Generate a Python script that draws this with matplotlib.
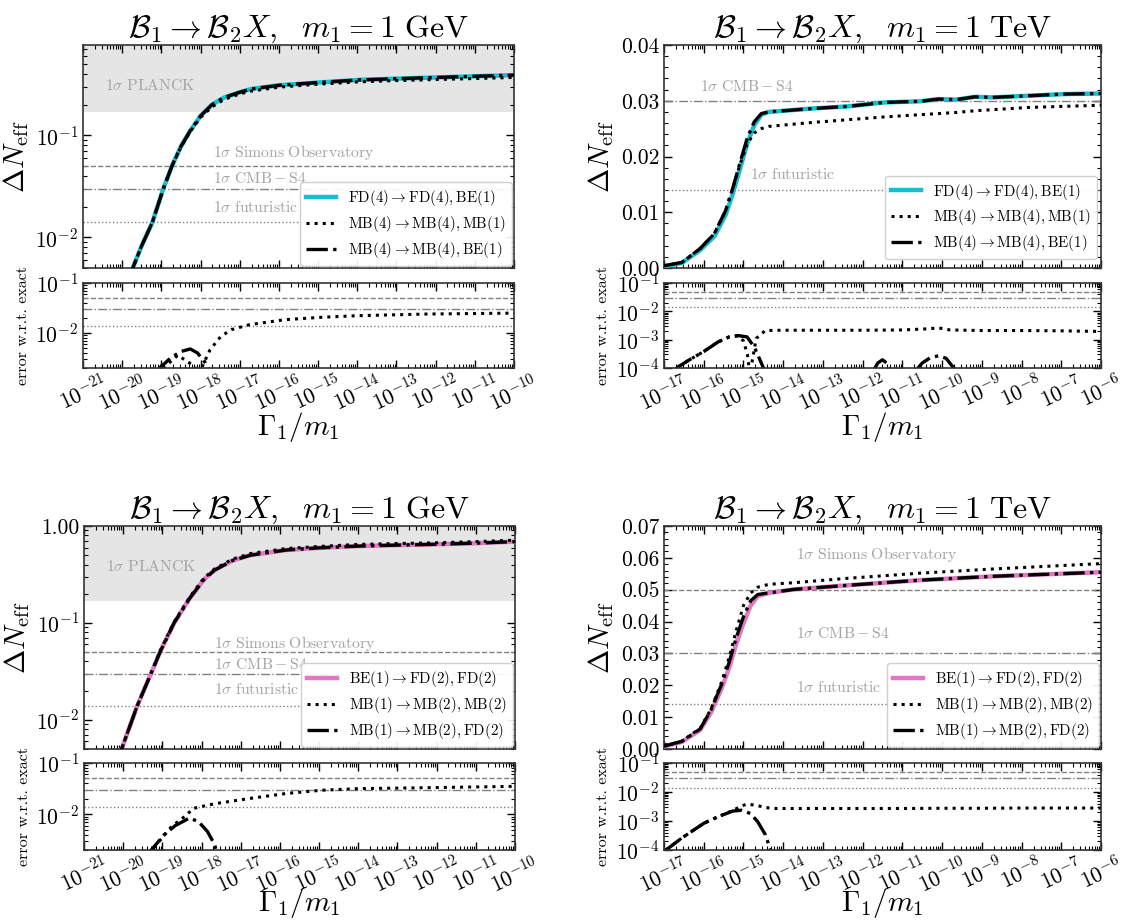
import numpy as np
import matplotlib
matplotlib.use("Agg")
import matplotlib.pyplot as plt
from matplotlib.ticker import LogLocator, NullFormatter, AutoMinorLocator, FixedLocator, FixedFormatter

plt.rcParams.update({
    "font.family": "serif",
    "font.serif": ["cmr10", "DejaVu Serif"],
    "mathtext.fontset": "cm",
    "axes.formatter.use_mathtext": True,
    "axes.unicode_minus": False,
})

# ---------------- data (log10 of Gamma_1/m_1, values) ----------------
# Panel 1: m1 = 1 GeV, FD(4) -> FD(4), BE(1)
x_a = [-19.85, -19.73, -19.5, -19.23, -18.95, -18.73, -18.5, -18.27, -18.0, -17.71,
       -17.4, -17.0, -16.71, -16.0, -15.0, -13.96, -13.0, -12.0, -11.0, -10.0]
a_exact = [0.0039, 0.005, 0.0083, 0.014, 0.03, 0.05, 0.078, 0.11, 0.155, 0.2,
           0.235, 0.265, 0.285, 0.31, 0.33, 0.35, 0.36, 0.37, 0.38, 0.39]
a_mbmb = [0.0039, 0.005, 0.0083, 0.014, 0.03, 0.05, 0.077, 0.108, 0.15, 0.19,
          0.225, 0.255, 0.272, 0.297, 0.318, 0.335, 0.345, 0.353, 0.361, 0.37]
a_mbbe = [0.0039, 0.005, 0.0083, 0.014, 0.03, 0.05, 0.078, 0.11, 0.155, 0.2,
          0.235, 0.265, 0.285, 0.31, 0.33, 0.35, 0.36, 0.37, 0.38, 0.39]
xe_a_mbmb = [-19.1, -18.95, -18.58, -18.4, -18.17, -18.05, -17.95, -17.76, -17.48,
             -17.21, -16.75, -15.84, -14.93, -14.01, -12.19, -10.0]
e_a_mbmb = [0.0015, 0.002, 0.0036, 0.0029, 0.0022, 0.0015, 0.0022, 0.0046, 0.0086,
            0.0117, 0.0147, 0.0185, 0.0206, 0.0222, 0.024, 0.025]
xe_a_mbbe = [-19.15, -19.04, -18.76, -18.49, -18.26, -18.08, -17.9, -17.8, -17.72]
e_a_mbbe = [0.0015, 0.002, 0.0032, 0.0043, 0.0048, 0.004, 0.0027, 0.002, 0.0015]

# Panel 2: m1 = 1 TeV, FD(4) -> FD(4), BE(1)
x_b = [-17.0, -16.55, -16.09, -15.73, -15.45, -15.27, -15.09, -14.91, -14.73, -14.55,
       -14.36, -13.27, -12.36, -11.45, -10.55, -10.09, -9.64, -9.18, -8.73, -7.82, -6.91, -6.0]
b_exact = [0.0003, 0.0009, 0.0032, 0.0057, 0.0095, 0.0133, 0.0177, 0.0222, 0.0256, 0.0275,
           0.028, 0.0286, 0.029, 0.0297, 0.0299, 0.0303, 0.0302, 0.0307, 0.0306, 0.0309, 0.0312, 0.0313]
b_mbbe = [0.0004, 0.0010, 0.0035, 0.0062, 0.0103, 0.0143, 0.0188, 0.0232, 0.0262, 0.0277,
          0.028, 0.0286, 0.029, 0.0297, 0.0299, 0.0303, 0.0302, 0.0307, 0.0306, 0.0309, 0.0312, 0.0313]
b_mbmb = [0.0004, 0.0010, 0.0035, 0.0062, 0.0103, 0.0143, 0.0185, 0.0222, 0.0242, 0.025,
          0.0254, 0.0261, 0.0266, 0.0271, 0.0275, 0.0277, 0.0279, 0.0282, 0.0284, 0.0288, 0.029, 0.0292]
xe_b_mbmb = [-16.64, -16.36, -16.0, -15.64, -15.36, -15.14, -15.0, -14.9, -14.84, -14.75,
             -14.68, -14.45, -14.0, -13.0, -12.0, -11.0, -10.4, -10.09, -9.8, -9.0, -8.0, -7.0, -6.0]
e_b_mbmb = [1.1e-4, 1.95e-4, 3.8e-4, 8.3e-4, 1.25e-3, 1.35e-3, 9e-4, 3e-4, 6e-5, 3e-4,
            1.1e-3, 2.1e-3, 2.15e-3, 2.15e-3, 2.15e-3, 2.2e-3, 2.4e-3, 2.6e-3, 2.2e-3, 2.1e-3, 2.1e-3, 2.05e-3, 1.95e-3]
xe_b_mbbe = [-16.75, -16.64, -16.36, -16.0, -15.64, -15.36, -15.14, -14.91, -14.73, -14.55, -14.45]
e_b_mbbe = [8e-5, 1.1e-4, 1.95e-4, 3.8e-4, 8.3e-4, 1.25e-3, 1.4e-3, 1.25e-3, 5.6e-4, 1.5e-4, 7e-5]
xe_b_bump1 = [-11.75, -11.62, -11.5, -11.4, -11.3]
e_b_bump1 = [7e-5, 1.5e-4, 1.95e-4, 1.5e-4, 7e-5]
xe_b_bump2 = [-10.7, -10.5, -10.3, -10.09, -9.9, -9.73, -9.6]
e_b_bump2 = [7e-5, 1.5e-4, 2.3e-4, 2.7e-4, 2.2e-4, 1.1e-4, 7e-5]

# Panel 3: m1 = 1 GeV, BE(1) -> FD(2), FD(2)
x_c = [-20.2, -20.04, -19.64, -19.29, -19.06, -18.7, -18.3, -17.94, -17.67, -17.21,
       -16.75, -15.84, -15.0, -14.01, -13.0, -12.19, -11.0, -10.0]
c_exact = [0.0035, 0.005, 0.014, 0.03, 0.05, 0.1, 0.18, 0.28, 0.35, 0.44,
           0.5, 0.565, 0.595, 0.62, 0.635, 0.645, 0.665, 0.69]
c_mbmb = [0.0035, 0.005, 0.014, 0.03, 0.051, 0.102, 0.185, 0.29, 0.36, 0.455,
          0.52, 0.585, 0.615, 0.645, 0.66, 0.668, 0.69, 0.714]
c_mbfd = [0.0035, 0.005, 0.014, 0.03, 0.05, 0.1, 0.18, 0.28, 0.35, 0.44,
          0.5, 0.565, 0.595, 0.62, 0.635, 0.645, 0.665, 0.69]
xe_c_mbmb = [-19.35, -19.22, -18.76, -18.4, -18.21, -17.67, -16.75, -15.84, -14.93, -14.0, -12.19, -10.0]
e_c_mbmb = [0.0017, 0.0022, 0.0058, 0.0094, 0.013, 0.016, 0.0204, 0.0254, 0.0294, 0.0316, 0.033, 0.035]
xe_c_mbfd = [-19.4, -19.26, -18.95, -18.67, -18.31, -18.08, -17.85, -17.67, -17.58]
e_c_mbfd = [0.0015, 0.0021, 0.004, 0.006, 0.0084, 0.0072, 0.0046, 0.0026, 0.0015]

# Panel 4: m1 = 1 TeV, BE(1) -> FD(2), FD(2)
x_d = [-17.0, -16.55, -16.09, -15.82, -15.55, -15.36, -15.18, -15.0, -14.82, -14.64,
       -14.36, -13.73, -12.36, -10.55, -8.73, -6.0]
d_exact = [0.0008, 0.0022, 0.006, 0.0114, 0.019, 0.0255, 0.033, 0.0395, 0.045, 0.048,
           0.049, 0.0501, 0.0514, 0.053, 0.0542, 0.0555]
d_mbfd = [0.0009, 0.0024, 0.0063, 0.0122, 0.0203, 0.0272, 0.035, 0.0415, 0.0465, 0.0485,
          0.049, 0.0501, 0.0514, 0.053, 0.0542, 0.0555]
d_mbmb = [0.0009, 0.0025, 0.0065, 0.0125, 0.021, 0.0287, 0.0373, 0.045, 0.049, 0.0508,
          0.0517, 0.0522, 0.0536, 0.0552, 0.0565, 0.0582]
xe_d_mbmb = [-16.95, -16.55, -16.0, -15.64, -15.27, -15.05, -14.91, -14.68, -14.45, -14.18,
             -13.0, -12.0, -11.0, -10.0, -9.0, -8.0, -7.0, -6.0]
e_d_mbmb = [1e-4, 2.6e-4, 8.3e-4, 1.4e-3, 2.3e-3, 3.3e-3, 3.8e-3, 3.5e-3, 2.9e-3, 2.7e-3,
            2.7e-3, 2.7e-3, 2.7e-3, 2.75e-3, 2.75e-3, 2.8e-3, 2.8e-3, 2.8e-3]
xe_d_mbfd = [-17.05, -16.95, -16.55, -16.0, -15.64, -15.27, -15.05, -14.82, -14.64, -14.45, -14.36, -14.28]
e_d_mbfd = [8e-5, 1e-4, 2.6e-4, 8.3e-4, 1.4e-3, 2.2e-3, 2.35e-3, 1.8e-3, 9.4e-4, 3.4e-4, 1.5e-4, 7e-5]

# reference sensitivities
planck = 0.17
simons = 0.05
cmbs4 = 0.03
futur = 0.014

labels_top = [r"$\mathrm{FD}(4)\rightarrow\mathrm{FD}(4),\mathrm{BE}(1)$",
              r"$\mathrm{MB}(4)\rightarrow\mathrm{MB}(4),\mathrm{MB}(1)$",
              r"$\mathrm{MB}(4)\rightarrow\mathrm{MB}(4),\mathrm{BE}(1)$"]
labels_bot = [r"$\mathrm{BE}(1)\rightarrow\mathrm{FD}(2),\mathrm{FD}(2)$",
              r"$\mathrm{MB}(1)\rightarrow\mathrm{MB}(2),\mathrm{MB}(2)$",
              r"$\mathrm{MB}(1)\rightarrow\mathrm{MB}(2),\mathrm{FD}(2)$"]
title_gev = r"$\mathcal{B}_1\rightarrow\mathcal{B}_2X,\ \ m_1=1\ \mathrm{GeV}$"
title_tev = r"$\mathcal{B}_1\rightarrow\mathcal{B}_2X,\ \ m_1=1\ \mathrm{TeV}$"

cyan = "#17becf"
pink = "#e377c2"
grey_txt = "#a3a3a3"
grey_ln = "#808080"

FS_TICK = 15.5
FS_TITLE = 23
FS_LAB = 21
FS_LEG = 10.8
FS_TXT = 11.3

W, H = 1124, 923
fig = plt.figure(figsize=(W / 100, H / 100), dpi=100)


def box(x0, y0, x1, y1):
    return [x0 / W, 1 - y1 / H, (x1 - x0) / W, (y1 - y0) / H]


def style(ax):
    ax.tick_params(which="both", direction="in", top=True, right=True, labelsize=FS_TICK)
    ax.tick_params(which="major", length=6, width=1)
    ax.tick_params(which="minor", length=3, width=0.8)
    for s in ax.spines.values():
        s.set_linewidth(1.2)
        s.set_color("#333333")


def xlog(ax, lo, hi, labels):
    ax.set_xscale("log")
    ax.set_xlim(10.0 ** lo, 10.0 ** hi)
    ax.xaxis.set_major_locator(LogLocator(base=10, numticks=30))
    ax.xaxis.set_minor_locator(LogLocator(base=10, subs=np.arange(2, 10), numticks=30))
    ax.xaxis.set_minor_formatter(NullFormatter())
    if not labels:
        ax.tick_params(axis="x", labelbottom=False)


def refline_err(ax):
    ax.axhline(simons, color=grey_ln, ls="--", lw=1.0)
    ax.axhline(cmbs4, color=grey_ln, ls="-.", lw=1.0)
    ax.axhline(futur, color=grey_ln, ls=":", lw=1.0)


def lines_main(ax, x, y1, y2, y3, col, labs):
    X = 10.0 ** np.array(x)
    ax.plot(X, y1, color=col, lw=3.2, label=labs[0], zorder=3)
    ax.plot(X, y2, color="black", ls=":", lw=2.2, label=labs[1], zorder=4)
    ax.plot(X, y3, color="black", ls="-.", lw=2.4, label=labs[2], zorder=5)


def lines_err(ax, x2, e2, x3, e3):
    ax.plot(10.0 ** np.array(x2), e2, color="black", ls=":", lw=2.2)
    ax.plot(10.0 ** np.array(x3), e3, color="black", ls="-.", lw=2.4)


def legend(ax, anchor):
    kw = dict(loc="lower right", fontsize=FS_LEG, frameon=True, fancybox=True,
              edgecolor="#cccccc", framealpha=0.92, borderpad=0.4,
              labelspacing=0.38, handlelength=2.0, handletextpad=0.8,
              borderaxespad=0.15)
    if anchor is not None:
        kw["bbox_to_anchor"] = anchor
    leg = ax.legend(**kw)
    leg.set_zorder(10)


def txt(ax, xf, yf, s):
    ax.text(xf, yf, s, transform=ax.transAxes, color=grey_txt, fontsize=FS_TXT,
            va="center", ha="left", zorder=2)


def err_axes(ax, lo, hi, ylo, ticks, pad):
    ax.set_yscale("log")
    ax.set_ylim(ylo, 0.1)
    ax.yaxis.set_major_locator(FixedLocator(ticks))
    ax.yaxis.set_minor_locator(LogLocator(base=10, subs=np.arange(2, 10), numticks=30))
    ax.yaxis.set_minor_formatter(NullFormatter())
    xlog(ax, lo, hi, True)
    ax.set_ylabel("error w.r.t. exact", fontsize=11.5, labelpad=4)
    ax.set_xlabel(r"$\Gamma_1/m_1$", fontsize=FS_LAB, labelpad=pad)
    style(ax)
    ax.tick_params(axis="x", labelrotation=25, pad=2)


def main_labels(ax, title):
    ax.set_ylabel(r"$\Delta N_{\mathrm{eff}}$", fontsize=FS_LAB, labelpad=3)
    ax.set_title(title, fontsize=FS_TITLE, pad=6)
    style(ax)


S4 = r"$\mathbf{1}\sigma\ \mathrm{CMB}-\mathrm{S4}$"
SO = r"$\mathbf{1}\sigma\ \mathrm{Simons\ Observatory}$"
FU = r"$\mathbf{1}\sigma\ \mathrm{futuristic}$"
PL = r"$\mathbf{1}\sigma\ \mathrm{PLANCK}$"

# ---------- panel 1 (top-left) ----------
ax = fig.add_axes(box(83, 45, 514, 268))
ax.set_yscale("log")
ax.set_ylim(0.005, 0.77)
ax.axhspan(planck, 10, color="#e5e5e5", zorder=0, lw=0)
ax.axhline(simons, color=grey_ln, ls="--", lw=1.0)
ax.axhline(cmbs4, color=grey_ln, ls="-.", lw=1.0)
ax.axhline(futur, color=grey_ln, ls=":", lw=1.0)
lines_main(ax, x_a, a_exact, a_mbmb, a_mbbe, cyan, labels_top)
xlog(ax, -21, -10, False)
txt(ax, 0.052, 0.82, PL)
txt(ax, 0.302, 0.52, SO)
txt(ax, 0.302, 0.40, S4)
txt(ax, 0.302, 0.27, FU)
legend(ax, None)
main_labels(ax, title_gev)

ax = fig.add_axes(box(83, 283, 514, 368))
refline_err(ax)
lines_err(ax, xe_a_mbmb, e_a_mbmb, xe_a_mbbe, e_a_mbbe)
err_axes(ax, -21, -10, 2e-3, [1e-2, 1e-1], -3)

# ---------- panel 2 (top-right) ----------
ax = fig.add_axes(box(664, 45, 1101, 268))
ax.set_ylim(0.0, 0.04)
ax.axhline(cmbs4, color=grey_ln, ls="-.", lw=1.0)
ax.axhline(futur, color=grey_ln, ls=":", lw=1.0)
lines_main(ax, x_b, b_exact, b_mbmb, b_mbbe, cyan, labels_top)
xlog(ax, -17, -6, False)
ax.set_yticks([0.0, 0.01, 0.02, 0.03, 0.04])
ax.set_yticklabels(["0.00", "0.01", "0.02", "0.03", "0.04"])
ax.yaxis.set_minor_locator(AutoMinorLocator(5))
txt(ax, 0.082, 0.815, S4)
txt(ax, 0.197, 0.42, FU)
legend(ax, (0.997, 0.03))
main_labels(ax, title_tev)

ax = fig.add_axes(box(664, 283, 1101, 368))
refline_err(ax)
lines_err(ax, xe_b_mbmb, e_b_mbmb, xe_b_mbbe, e_b_mbbe)
ax.plot(10.0 ** np.array(xe_b_bump1), e_b_bump1, color="black", ls="-.", lw=2.4)
ax.plot(10.0 ** np.array(xe_b_bump2), e_b_bump2, color="black", ls="-.", lw=2.4)
err_axes(ax, -17, -6, 1e-4, [1e-4, 1e-3, 1e-2, 1e-1], -3)

# ---------- panel 3 (bottom-left) ----------
ax = fig.add_axes(box(84, 526, 515, 749))
ax.set_yscale("log")
ax.set_ylim(0.005, 1.0)
ax.axhspan(planck, 10, color="#e5e5e5", zorder=0, lw=0)
ax.axhline(simons, color=grey_ln, ls="--", lw=1.0)
ax.axhline(cmbs4, color=grey_ln, ls="-.", lw=1.0)
ax.axhline(futur, color=grey_ln, ls=":", lw=1.0)
lines_main(ax, x_c, c_exact, c_mbmb, c_mbfd, pink, labels_bot)
xlog(ax, -21, -10, False)
ax.yaxis.set_major_locator(FixedLocator([1e-2, 1e-1, 1.0]))
ax.yaxis.set_major_formatter(FixedFormatter([r"$10^{-2}$", r"$10^{-1}$", "1.00"]))
ax.yaxis.set_minor_locator(LogLocator(base=10, subs=np.arange(2, 10), numticks=30))
ax.yaxis.set_minor_formatter(NullFormatter())
txt(ax, 0.052, 0.82, PL)
txt(ax, 0.302, 0.475, SO)
txt(ax, 0.302, 0.377, S4)
txt(ax, 0.302, 0.265, FU)
legend(ax, None)
main_labels(ax, title_gev)

ax = fig.add_axes(box(84, 763, 515, 850))
refline_err(ax)
lines_err(ax, xe_c_mbmb, e_c_mbmb, xe_c_mbfd, e_c_mbfd)
err_axes(ax, -21, -10, 2e-3, [1e-2, 1e-1], -7)

# ---------- panel 4 (bottom-right) ----------
ax = fig.add_axes(box(664, 526, 1101, 749))
ax.set_ylim(0.0, 0.07)
ax.axhline(simons, color=grey_ln, ls="--", lw=1.0)
ax.axhline(cmbs4, color=grey_ln, ls="-.", lw=1.0)
ax.axhline(futur, color=grey_ln, ls=":", lw=1.0)
lines_main(ax, x_d, d_exact, d_mbmb, d_mbfd, pink, labels_bot)
xlog(ax, -17, -6, False)
ax.set_yticks([0.0, 0.01, 0.02, 0.03, 0.04, 0.05, 0.06, 0.07])
ax.set_yticklabels(["0.00", "0.01", "0.02", "0.03", "0.04", "0.05", "0.06", "0.07"])
ax.yaxis.set_minor_locator(AutoMinorLocator(5))
txt(ax, 0.302, 0.87, SO)
txt(ax, 0.302, 0.52, S4)
txt(ax, 0.302, 0.274, FU)
legend(ax, None)
main_labels(ax, title_tev)

ax = fig.add_axes(box(664, 763, 1101, 850))
refline_err(ax)
lines_err(ax, xe_d_mbmb, e_d_mbmb, xe_d_mbfd, e_d_mbfd)
err_axes(ax, -17, -6, 1e-4, [1e-4, 1e-3, 1e-2, 1e-1], -7)

fig.savefig("out.png", dpi=100)
